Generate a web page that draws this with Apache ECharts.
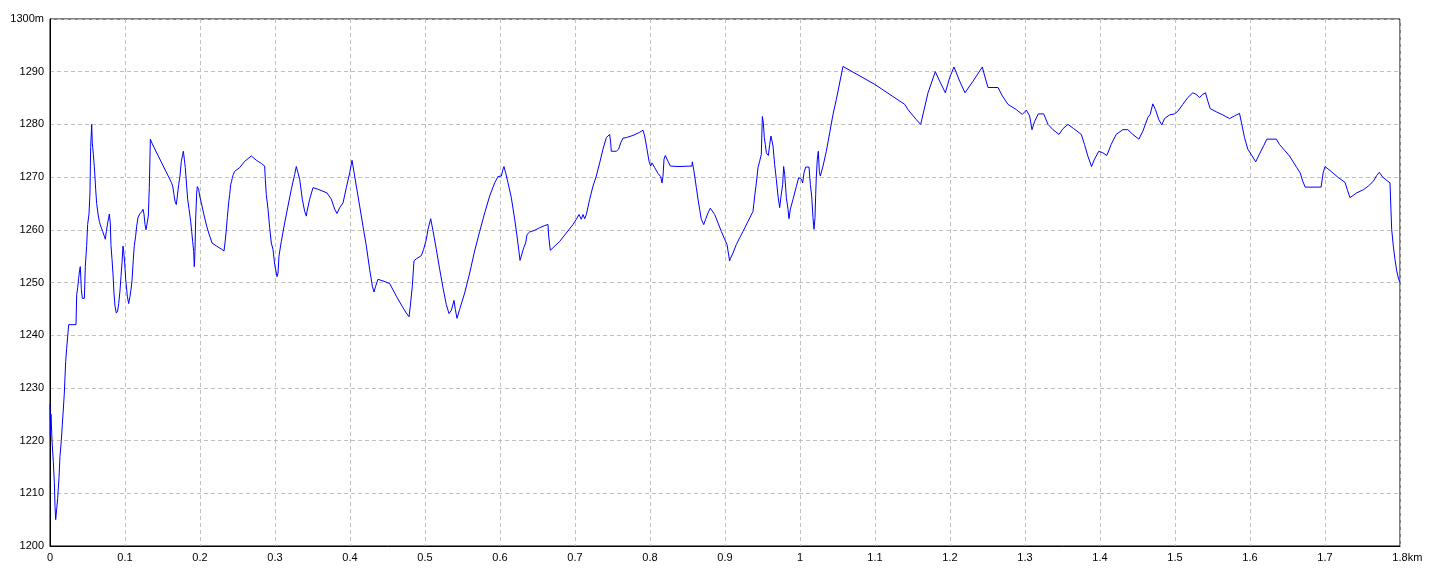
<!DOCTYPE html>
<html>
<head>
<meta charset="utf-8">
<script src="https://cdn.jsdelivr.net/npm/echarts@6/dist/echarts.min.js"></script>
<style>
html,body{margin:0;padding:0;background:#fff;}
#chart{width:1440px;height:576px;}
</style>
</head>
<body>
<div id="chart"></div>
<script>
// distance along the route (km)
const dist = [
0,0.0005,0.0013,0.0027,0.0044,0.0058,0.0067,0.0076,0.0089,0.0102,0.012,0.0133,0.0151,0.0164,0.0178,0.0191,0.0209,0.0222,0.024,0.0249,
0.0347,0.0356,0.0369,0.0382,0.0396,0.0404,0.0418,0.0431,0.0458,0.0471,0.0489,0.0502,0.052,0.0533,0.0542,0.0556,0.0564,0.0578,0.0591,0.0609,
0.0622,0.064,0.0658,0.0676,0.0702,0.0724,0.0738,0.0751,0.0769,0.0782,0.0791,0.0804,0.0813,0.0827,0.084,0.0853,0.0867,0.0884,0.0902,0.0916,
0.0933,0.0947,0.096,0.0973,0.0982,0.0996,0.1009,0.1031,0.1049,0.1067,0.108,0.1093,0.1111,0.1124,0.1142,0.1156,0.1173,0.1196,0.1222,0.124,
0.1253,0.1267,0.128,0.1298,0.1311,0.1324,0.1338,0.1364,0.1618,0.1636,0.1653,0.1667,0.1684,0.1698,0.1716,0.1733,0.1751,0.1769,0.1778,0.1791,
0.1804,0.1822,0.1836,0.1853,0.1876,0.1889,0.1902,0.1916,0.1924,0.1933,0.1942,0.1956,0.1964,0.1982,0.1996,0.2018,0.2036,0.2067,0.2089,0.2116,
0.2138,0.216,0.2178,0.2222,0.2289,0.232,0.2333,0.2347,0.2364,0.2382,0.2396,0.2409,0.2422,0.2431,0.2444,0.2462,0.2529,0.2596,0.2684,0.2751,
0.2818,0.2862,0.2871,0.2884,0.2907,0.2929,0.2951,0.2973,0.2996,0.3027,0.304,0.3053,0.3084,0.3129,0.3173,0.3218,0.3262,0.3284,0.3307,0.3329,
0.3364,0.3396,0.3418,0.3427,0.3462,0.3507,0.3573,0.364,0.3693,0.3707,0.3751,0.3796,0.3827,0.3862,0.3907,0.3951,0.3996,0.4027,0.404,0.4062,
0.4129,0.4173,0.4218,0.4262,0.4298,0.432,0.4342,0.4373,0.444,0.4529,0.4618,0.4707,0.4751,0.4787,0.4804,0.4831,0.4853,0.4884,0.4951,0.4982,
0.5018,0.504,0.5076,0.5107,0.5151,0.5196,0.524,0.5284,0.532,0.5351,0.5373,0.5387,0.5404,0.5427,0.5462,0.5529,0.5596,0.5662,0.5729,0.5796,
0.5862,0.5929,0.5973,0.6018,0.604,0.6053,0.6076,0.6107,0.6151,0.6196,0.6227,0.6249,0.6267,0.6284,0.6316,0.6342,0.636,0.6396,0.6462,0.6529,
0.6596,0.664,0.6649,0.6671,0.6707,0.6796,0.6884,0.6973,0.7018,0.7053,0.7084,0.7107,0.7129,0.7151,0.7196,0.724,0.7284,0.7329,0.7373,0.7418,
0.7462,0.7476,0.7484,0.7551,0.7582,0.7609,0.764,0.7684,0.7773,0.7862,0.7907,0.7929,0.796,0.7987,0.8009,0.8027,0.8062,0.8107,0.8142,0.816,
0.8173,0.8187,0.8204,0.824,0.8271,0.8373,0.856,0.8564,0.8582,0.8596,0.8618,0.864,0.8662,0.8684,0.8716,0.8742,0.8773,0.8804,0.8827,0.8862,
0.8907,0.8951,0.8996,0.9027,0.904,0.9062,0.9071,0.9107,0.9151,0.9196,0.924,0.9307,0.9373,0.9396,0.9418,0.944,0.9462,0.9484,0.9498,0.9511,
0.9524,0.9538,0.9551,0.9569,0.9578,0.9596,0.9613,0.9627,0.964,0.9662,0.9684,0.9707,0.9729,0.9747,0.9769,0.9782,0.9796,0.9818,0.984,0.9853,
0.9871,0.9907,0.9951,0.9982,1.0018,1.0036,1.0053,1.0076,1.012,1.0138,1.0156,1.0173,1.0187,1.02,1.0209,1.0218,1.0231,1.0244,1.0258,1.0271,
1.0307,1.0351,1.0396,1.044,1.0484,1.0573,1.0996,1.1396,1.144,1.1551,1.1609,1.1707,1.1804,1.1862,1.1938,1.1996,1.2053,1.2129,1.22,1.2307,
1.2431,1.2462,1.2507,1.264,1.2698,1.2773,1.2884,1.2964,1.3018,1.3044,1.3062,1.3093,1.3129,1.3178,1.3249,1.3307,1.3373,1.3453,1.3507,1.3573,
1.3649,1.3751,1.3793,1.3838,1.3887,1.3927,1.3984,1.4038,1.4091,1.4149,1.4216,1.4304,1.4371,1.4438,1.4518,1.4571,1.4638,1.4669,1.4704,1.474,
1.4784,1.4824,1.486,1.4927,1.4993,1.5038,1.5104,1.5171,1.5238,1.5282,1.5327,1.5371,1.5407,1.5438,1.5469,1.5549,1.5638,1.5727,1.5793,1.586,
1.5891,1.5927,1.5971,1.6029,1.6076,1.6127,1.6184,1.6224,1.6352,1.6393,1.646,1.6527,1.6571,1.6624,1.6669,1.6704,1.6736,1.6948,1.6975,1.7,
1.7089,1.7178,1.7267,1.7298,1.7333,1.7422,1.7511,1.7578,1.7644,1.7689,1.7724,1.7769,1.7813,1.7867,1.7876,1.7889,1.7911,1.7933,1.7956,1.7982,1.8
];
// elevation (m)
const elev = [
1227,1221,1225,1220,1216,1212,1207.5,1205,1207,1209,1213,1217,1220,1223,1226,1229,1235,1237.5,1240.5,1242,
1242,1247.7,1249,1250.8,1252.5,1253,1248.7,1247,1247,1253,1257,1261,1263,1267,1275.6,1280,1276.5,1274.3,1272,1267.7,
1265,1263,1261.6,1260.7,1259.7,1258.8,1258.2,1259.7,1261.3,1262.3,1263,1261.3,1257,1254.4,1251.6,1248,1245.5,1244.2,1244.6,1246,
1248.4,1251.2,1253.7,1256.9,1256,1253.7,1250.6,1247.4,1246,1247.4,1248.7,1250.3,1254.4,1257,1258.8,1260.7,1262.3,1263,1263.4,1263.9,
1263,1261,1260,1260,1262.6,1268,1277.2,1276.3,1269,1268.3,1266.7,1265.4,1264.8,1266.4,1268.6,1270.2,1273,1274.3,1274.9,1273.4,
1271.8,1268.3,1265.8,1264,1261.6,1259.7,1257.8,1255.9,1253,1255.9,1262,1267,1268.2,1267.7,1266.4,1265.1,1263.9,1262,1260.7,1259.4,
1258.5,1257.5,1257.2,1256.9,1256.3,1256,1257.5,1259.4,1262.3,1265.1,1266.7,1268.6,1269.2,1269.9,1270.5,1271.1,1271.8,1273,1274,1273.2,
1272.6,1272.1,1269.6,1266.7,1263.9,1260.4,1257.5,1256.3,1253.4,1251.1,1251.8,1255,1257.8,1261.3,1264.5,1267.7,1270.5,1272,1272,1269.6,
1265.8,1263.5,1262.6,1263.5,1265.8,1268,1267.7,1267.3,1267,1267.3,1265.8,1263.9,1263.1,1264.2,1265.1,1268,1270.8,1273.2,1272.1,1270.2,
1264.5,1260.7,1256.9,1252.5,1249.3,1248.2,1249.3,1250.6,1250.3,1249.8,1247.4,1245.2,1244.2,1243.5,1245.5,1249.3,1254.1,1254.5,1255.1,1256.3,
1258.2,1260.1,1262.1,1259.8,1256.3,1252.5,1249,1245.8,1244.1,1244.7,1245,1246.6,1244.9,1243.2,1244.9,1248,1251.8,1256,1259.7,1263.2,
1266.4,1268.9,1270.1,1270.2,1271.5,1272,1270.8,1268.9,1266.1,1262,1258.8,1256.3,1254.2,1255,1256.6,1257.5,1259.1,1259.6,1259.9,1260.4,
1260.8,1261,1258.8,1256.1,1256.6,1257.8,1259.4,1261,1262,1262.9,1262,1262.9,1262.1,1262.9,1265.8,1268.3,1270.2,1272.7,1275.3,1277.5,
1278.1,1276.5,1274.9,1274.9,1275.3,1276.5,1277.4,1277.5,1277.9,1278.5,1278.9,1277.8,1275.3,1273,1272.1,1272.7,1271.8,1270.7,1270.1,1268.9,
1270.1,1273.4,1274.1,1273,1272.1,1272,1272.1,1272.9,1271.5,1270.2,1268,1265.8,1263.9,1262,1261,1262,1263.2,1264.1,1264,1262.9,
1261.3,1259.7,1258.2,1257.2,1256,1254.1,1254.5,1255.6,1257.2,1258.5,1259.7,1261.6,1263.5,1266.4,1268.9,1271.8,1273,1274.3,1281.5,1280.3,
1277.5,1276.2,1274.6,1274.9,1274.1,1276.2,1277.8,1278.1,1275.9,1272.4,1269.6,1266.4,1264.2,1266.4,1268.6,1272,1270.5,1266.1,1263.9,1262.1,
1263.9,1265.8,1268.2,1269.9,1269.6,1268.9,1270.8,1271.9,1271.9,1268.6,1266.4,1262.3,1260.1,1262.3,1266.7,1270.2,1273.4,1274.9,1271.1,1270.2,
1272.1,1274.9,1278.4,1281.9,1284.7,1291,1287.6,1283.8,1282.8,1280.9,1280,1286,1290,1288.2,1286,1288.9,1290.9,1288.2,1286,1288.2,
1290.9,1289.2,1287,1287,1285.4,1283.8,1282.8,1281.9,1282.7,1283,1281.6,1279,1280.6,1282,1282,1280,1279,1278.1,1279.2,1280,
1279.2,1278.1,1276.2,1274,1272,1273.4,1274.9,1274.6,1274.1,1276.2,1278.1,1279,1279,1278.1,1277.2,1278.7,1281.3,1281.9,1283.9,1282.8,
1280.9,1279.9,1281.1,1281.8,1282,1282.5,1283.8,1285.1,1286,1285.7,1285.1,1285.7,1286,1284.4,1283,1282.4,1281.8,1281.1,1281.6,1282.1,
1280,1277.5,1275.3,1274,1272.9,1274.4,1276,1277.2,1277.2,1276.2,1275.1,1274,1273,1271.8,1270.8,1269.2,1268.1,1268.1,1270.8,1272,
1271,1269.9,1269,1267.6,1266.1,1267,1267.6,1268.3,1269.2,1270.3,1270.9,1270,1269.5,1268.9,1265.1,1260.1,1256.9,1254.4,1252.2,1250.6,1250
];
// tick labels
const xTickLabels = ['0','0.1','0.2','0.3','0.4','0.5','0.6','0.7','0.8','0.9','1','1.1','1.2','1.3','1.4','1.5','1.6','1.7','1.8km'];
const yTickLabels = ['1200','1210','1220','1230','1240','1250','1260','1270','1280','1290','1300m'];

const chart = echarts.init(document.getElementById('chart'), null, {renderer:'canvas'});
const pts = dist.map((d,i)=>[d, elev[i]]);
const font = 'Liberation Sans, Arial, sans-serif';
chart.setOption({
  animation:false,
  backgroundColor:'#ffffff',
  grid:{left:50,right:40,top:19,bottom:30,show:true,borderColor:'#000',borderWidth:1,backgroundColor:'transparent'},
  xAxis:{
    type:'value',min:0,max:1.8,interval:0.1,
    axisLine:{show:true,lineStyle:{color:'#000',width:1}},
    axisTick:{show:false},
    splitLine:{show:true,lineStyle:{color:'#c0c0c0',type:[4,3],width:1}},
    axisLabel:{
      margin:6,color:'#000',fontSize:11,fontFamily:font,
      formatter:function(v){
        const i = Math.round(v*10);
        const s = xTickLabels[i];
        if (s === undefined) return '';
        if (s.endsWith('km')) return '{h|km}' + s;
        return s;
      },
      rich:{h:{color:'transparent',fontSize:11,fontFamily:font}}
    }
  },
  yAxis:{
    type:'value',min:1200,max:1300,interval:10,
    axisLine:{show:true,lineStyle:{color:'#000',width:1}},
    axisTick:{show:false},
    splitLine:{show:true,lineStyle:{color:'#c0c0c0',type:[4,3],width:1}},
    axisLabel:{
      margin:6,color:'#000',fontSize:11,fontFamily:font,
      formatter:function(v){
        const i = Math.round((v-1200)/10);
        return yTickLabels[i] !== undefined ? yTickLabels[i] : '';
      }
    }
  },
  series:[{
    type:'line',data:pts,showSymbol:false,symbol:'none',
    lineStyle:{color:'#0000ff',width:1},
    clip:true
  }]
});
</script>
</body>
</html>
